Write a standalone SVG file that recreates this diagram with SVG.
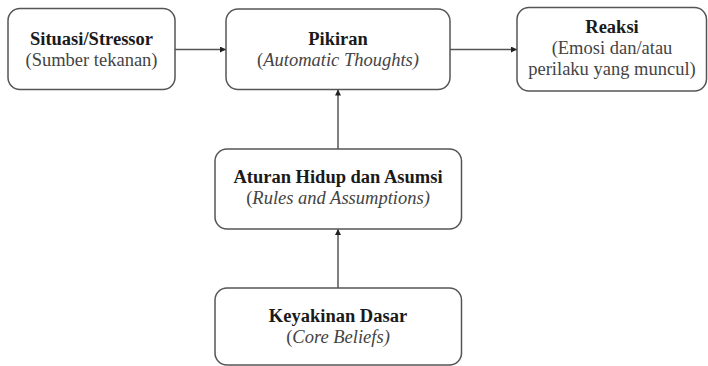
<svg xmlns="http://www.w3.org/2000/svg" width="708" height="366" viewBox="0 0 708 366">
<style>
.box{fill:#fff;stroke:#555;stroke-width:1.5}
text{font-family:'Liberation Serif',Times,'DejaVu Serif',serif;font-size:18.5px;text-anchor:middle}
.b{font-weight:bold;fill:#1a1a1a}
.n{fill:#444}
.i{font-style:italic}
.c{stroke:#555;stroke-width:1.5;fill:none;marker-end:url(#ah)}
</style>
<defs>
<marker id="ah" viewBox="0 0 10 10" refX="10" refY="5" markerWidth="6" markerHeight="6" markerUnits="userSpaceOnUse" orient="auto">
<path d="M0,0 L10,5 L0,10 z" fill="#222"/>
</marker>
</defs>
<g id="connectors">
<path class="c" d="M175,49.5 H226"/>
<path class="c" d="M450,49.5 H517"/>
<path class="c" d="M338,149 V89.5"/>
<path class="c" d="M338,288 V229"/>
</g>
<g id="situasi">
<rect class="box" x="8" y="8.5" width="167" height="81" rx="12"/>
<text class="b" x="91.5" y="45" font-family="Liberation Serif, serif">Situasi/Stressor</text>
<text class="n" x="91.5" y="66" font-family="Liberation Serif, serif">(Sumber tekanan)</text>
</g>
<g id="pikiran">
<rect class="box" x="226" y="9" width="224" height="80.5" rx="12"/>
<text class="b" x="338" y="45" font-family="Liberation Serif, serif">Pikiran</text>
<text class="n" x="338" y="66" font-family="Liberation Serif, serif">(<tspan class="i">Automatic Thoughts)</tspan></text>
</g>
<g id="reaksi">
<rect class="box" x="517" y="7.5" width="189.5" height="83.5" rx="12"/>
<text class="b" x="612" y="33" font-family="Liberation Serif, serif">Reaksi</text>
<text class="n" x="612" y="54" font-family="Liberation Serif, serif">(Emosi dan/atau</text>
<text class="n" x="612" y="74.5" font-family="Liberation Serif, serif">perilaku yang muncul)</text>
</g>
<g id="aturan">
<rect class="box" x="215" y="149" width="246.5" height="80" rx="12"/>
<text class="b" x="338" y="183" font-family="Liberation Serif, serif">Aturan Hidup dan Asumsi</text>
<text class="n" x="338" y="204" font-family="Liberation Serif, serif">(<tspan class="i">Rules and Assumptions)</tspan></text>
</g>
<g id="keyakinan">
<rect class="box" x="215" y="288" width="246.5" height="77" rx="12"/>
<text class="b" x="338" y="322" font-family="Liberation Serif, serif">Keyakinan Dasar</text>
<text class="n" x="338" y="343" font-family="Liberation Serif, serif">(<tspan class="i">Core Beliefs)</tspan></text>
</g>
</svg>
